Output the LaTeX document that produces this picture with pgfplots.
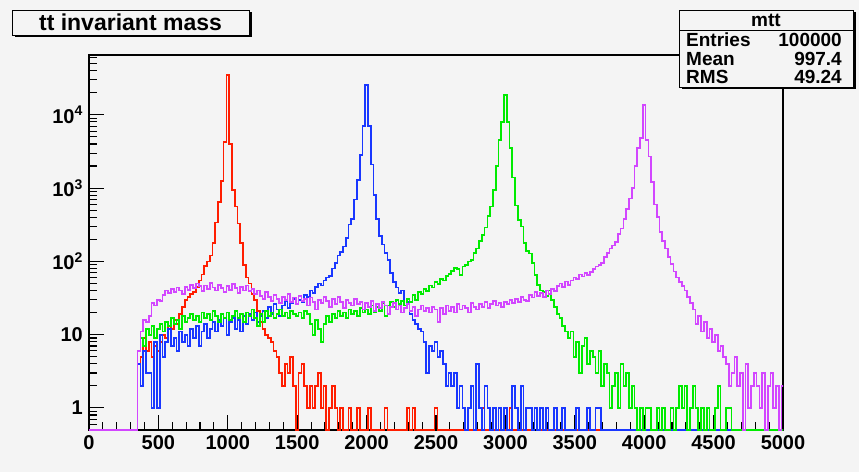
\documentclass[border=0pt]{standalone}
\usepackage{pgfplots}
\pgfplotsset{compat=1.18}
\usepackage{pgfplotstable}
\usepackage{fontspec}
\setmainfont{Liberation Sans}
\definecolor{bg}{RGB}{244,244,244}
\definecolor{hred}{RGB}{255,30,0}
\definecolor{hblue}{RGB}{25,55,255}
\definecolor{hgreen}{RGB}{0,235,0}
\definecolor{hmag}{RGB}{210,70,255}

% x = left bin edge (20 GeV bins); columns: red, blue, green, magenta; 0.5 = empty bin
\pgfplotstableread{
x r b g m
0 0.5 0.5 0.5 0.5
350 4 4 6 6
370 5 2 9 11
390 9 6 7 16
410 6 3 12 15
430 8 3 10 18
450 5 1 13 27
470 7 8 9 25
490 6 1 12 30
510 8 10 14 29
530 10 5 11 35
550 9 8 15 40
570 13 12 13 37
590 12 7 17 42
610 16 9 14 38
630 14 6 16 44
650 19 11 12 40
670 24 8 18 36
690 30 10 15 45
710 33 7 17 41
730 36 12 19 48
750 38 9 16 43
770 45 13 18 50
790 55 7 15 46
810 66 11 20 39
830 87 14 17 47
850 100 9 19 42
870 120 12 16 51
890 177 15 21 44
910 340 11 18 40
930 650 16 15 48
950 1250 13 19 43
970 4300 17 17 38
990 35000 10 20 46
1010 4000 15 16 41
1030 950 17 18 49
1050 560 12 21 43
1070 330 16 17 37
1090 180 11 19 45
1110 90 18 15 40
1130 60 14 20 47
1150 50 19 18 39
1170 36 16 22 42
1190 30 20 17 36
1210 21 15 13 40
1230 15 18 19 34
1250 12 21 15 31
1270 10 17 21 38
1290 9 24 18 33
1310 8 19 20 29
1330 6 26 17 35
1350 5 22 19 31
1370 3 18 22 27
1390 2 25 18 33
1410 4 29 20 30
1430 3 23 17 36
1450 5 27 21 28
1470 2 31 19 32
1490 0.5 26 18 26
1510 3 30 20 34
1530 4 28 17 29
1550 2 35 21 31
1570 1 33 19 25
1590 2 40 14 32
1610 1 37 10 28
1630 2 45 16 22
1650 3 50 12 30
1670 1 47 8 27
1690 2 55 14 33
1710 0.5 60 18 29
1730 1 63 15 24
1750 2 80 19 31
1770 1 95 17 26
1790 0.5 120 21 33
1810 1 135 18 28
1830 0.5 160 20 23
1850 0.5 210 17 30
1870 1 320 22 27
1890 0.5 380 19 25
1910 0.5 700 21 31
1930 1 1300 18 26
1950 0.5 2800 23 28
1970 0.5 7000 20 22
1990 0.5 25500 22 27
2010 1 7000 19 24
2030 0.5 2100 25 29
2050 0.5 800 20 21
2070 0.5 380 24 26
2090 0.5 220 21 23
2110 0.5 170 27 28
2130 1 130 18 25
2150 0.5 105 25 19
2170 0.5 70 28 24
2190 0.5 52 24 27
2210 0.5 44 30 22
2230 0.5 37 26 25
2250 0.5 40 29 20
2270 0.5 25 25 23
2290 1 28 31 26
2310 0.5 19 28 21
2330 1 16 35 24
2350 0.5 14 30 18
2370 0.5 12 38 22
2390 0.5 11 36 25
2410 0.5 8 42 21
2430 0.5 3 39 23
2450 0.5 7 47 20
2470 0.5 6 44 24
2490 1 8 52 22
2510 0.5 5 49 15
2530 0.5 6 58 23
2550 0.5 4 55 19
2570 0.5 2 63 25
2590 0.5 3 68 21
2610 0.5 2 74 24
2630 0.5 3 82 20
2650 0.5 1 78 26
2670 0.5 2 65 22
2690 0.5 1 85 25
2710 0.5 0.5 90 23
2730 0.5 1 100 20
2750 0.5 2 104 27
2770 0.5 0.5 130 24
2790 0.5 4 150 22
2810 0.5 1 190 26
2830 1 0.5 230 24
2850 0.5 2 290 28
2870 0.5 1 420 23
2890 0.5 0.5 560 26
2910 0.5 1 950 29
2930 0.5 0.5 2000 25
2950 0.5 1 4500 27
2970 0.5 0.5 8000 24
2990 0.5 1 18600 28
3010 0.5 0.5 8000 26
3030 1 0.5 3500 30
3050 0.5 2 1400 27
3070 0.5 1 580 31
3090 0.5 0.5 370 28
3110 0.5 2 300 33
3130 0.5 0.5 180 30
3150 0.5 1 140 29
3170 0.5 1 128 35
3190 0.5 0.5 95 32
3210 1 1 65 38
3230 0.5 0.5 48 34
3250 0.5 1 40 37
3270 0.5 0.5 38 33
3290 0.5 1 34 40
3310 0.5 0.5 40 36
3330 0.5 0.5 30 42
3350 0.5 1 24 39
3370 0.5 0.5 19 46
3390 0.5 0.5 17 50
3410 0.5 1 13 45
3430 0.5 0.5 11 53
3450 0.5 0.5 9 48
3470 0.5 0.5 11 55
3490 0.5 0.5 5 60
3510 0.5 1 8 57
3530 0.5 0.5 3 66
3550 0.5 0.5 7 62
3570 0.5 0.5 9 70
3590 0.5 1 4 65
3610 0.5 0.5 6 72
3630 0.5 0.5 5 78
3650 0.5 1 3 85
3670 0.5 1 6 90
3690 0.5 0.5 2 95
3710 0.5 0.5 4 115
3730 0.5 0.5 3 130
3750 0.5 0.5 1 150
3770 0.5 0.5 2 165
3790 0.5 0.5 3 185
3810 0.5 0.5 1 235
3830 0.5 0.5 4 280
3850 0.5 0.5 2 380
3870 0.5 0.5 3 520
3890 0.5 0.5 1 720
3910 0.5 0.5 2 1000
3930 0.5 0.5 1 2000
3950 0.5 0.5 0.5 3500
3970 0.5 0.5 1 4800
3990 0.5 0.5 0.5 13600
4010 0.5 0.5 1 4500
4030 0.5 0.5 1 2700
4050 0.5 0.5 0.5 1200
4070 0.5 0.5 0.5 600
4090 0.5 0.5 1 400
4110 0.5 0.5 0.5 250
4130 0.5 0.5 1 190
4150 0.5 0.5 0.5 150
4170 0.5 0.5 0.5 115
4190 0.5 0.5 1 93
4210 0.5 0.5 0.5 73
4230 0.5 0.5 1 60
4250 0.5 0.5 2 52
4270 0.5 0.5 1 46
4290 0.5 0.5 2 40
4310 0.5 0.5 0.5 33
4330 0.5 0.5 1 27
4350 0.5 0.5 2 22
4370 0.5 0.5 1 14
4390 0.5 0.5 0.5 18
4410 0.5 0.5 1 11
4430 0.5 0.5 0.5 15
4450 0.5 0.5 1 9
4470 0.5 0.5 0.5 12
4490 0.5 0.5 0.5 8
4510 0.5 0.5 1 10
4530 0.5 0.5 2 6
4550 0.5 0.5 0.5 7
4570 0.5 0.5 0.5 5
4590 0.5 0.5 1 4
4610 0.5 0.5 1 2
4630 0.5 0.5 0.5 3
4650 0.5 0.5 0.5 5
4670 0.5 0.5 0.5 2
4690 0.5 0.5 0.5 3
4710 0.5 0.5 0.5 0.5
4730 0.5 0.5 0.5 4
4750 0.5 0.5 0.5 1
4770 0.5 0.5 0.5 2
4790 0.5 0.5 0.5 3
4810 0.5 0.5 0.5 2
4830 0.5 0.5 0.5 1
4850 0.5 0.5 0.5 3
4870 0.5 0.5 0.5 0.5
4890 0.5 0.5 0.5 2
4910 0.5 0.5 0.5 3
4930 0.5 0.5 0.5 1
4950 0.5 0.5 0.5 2
4970 0.5 0.5 0.5 0.5
4990 0.5 0.5 0.5 2
5010 0.5 0.5 0.5 2
}\hist

\begin{document}
\begin{tikzpicture}[x=1pt,y=1pt]
\useasboundingbox (0,0) rectangle (859,472);
\fill[bg] (0,0) rectangle (859,472);
\begin{axis}[
  at={(89pt,42pt)}, anchor=south west,
  width=694pt, height=375pt, scale only axis,
  xmin=0, xmax=5000, ymode=log, ymin=0.5, ymax=65500,
  axis background/.style={fill=bg},
  axis line style={line width=1.6pt, black},
  tick pos=left, tick align=inside,
  major tick length=15pt, minor tick length=8pt,
  every tick/.style={black, line width=1.1pt},
  xtick={0,500,1000,1500,2000,2500,3000,3500,4000,4500,5000},
  xticklabels={0,500,1000,1500,2000,2500,3000,3500,4000,4500,5000},
  minor x tick num=4,
  ytick={1,10,100,1000,10000},
  yticklabels={1,10,10\textsuperscript{2},10\textsuperscript{3},10\textsuperscript{4}},
  minor ytick={0.6,0.7,0.8,0.9,2,3,4,5,6,7,8,9,20,30,40,50,60,70,80,90,200,300,400,500,600,700,800,900,2000,3000,4000,5000,6000,7000,8000,9000,20000,30000,40000,50000,60000},
  x tick label style={font=\bfseries\fontsize{20}{20}\selectfont, inner sep=0pt, yshift=-5pt},
  y tick label style={font=\bfseries\fontsize{20}{20}\selectfont, inner sep=0pt, xshift=-6pt},
]
\addplot[const plot mark left, no marks, hred, line width=1.7pt] table[x=x,y=r]{\hist};
\addplot[const plot mark left, no marks, hblue, line width=1.7pt] table[x=x,y=b]{\hist};
\addplot[const plot mark left, no marks, hgreen, line width=1.7pt] table[x=x,y=g]{\hist};
\addplot[const plot mark left, no marks, hmag, line width=1.7pt] table[x=x,y=m]{\hist};
\end{axis}
% title box
\fill[black] (14.5,434.5) rectangle (251.5,459.5);
\draw[fill=bg, line width=0.8pt] (12,437) rectangle (249,462);
\node at (130.5,449.5) {\bfseries\fontsize{23}{23}\selectfont tt invariant mass};
% stats box
\fill[black] (681.5,382.5) rectangle (855.5,459.5);
\draw[fill=bg, line width=0.8pt] (679,385) rectangle (853,462);
\draw[line width=0.8pt] (679,442) -- (853,442);
\node at (766,451.5) {\bfseries\fontsize{19}{19}\selectfont mtt};
\node[anchor=west, inner sep=0pt] at (686,432) {\bfseries\fontsize{19}{19}\selectfont Entries};
\node[anchor=east, inner sep=0pt] at (842,432) {\bfseries\fontsize{19}{19}\selectfont 100000};
\node[anchor=west, inner sep=0pt] at (686,413) {\bfseries\fontsize{19}{19}\selectfont Mean};
\node[anchor=east, inner sep=0pt] at (842,413) {\bfseries\fontsize{19}{19}\selectfont 997.4};
\node[anchor=west, inner sep=0pt] at (686,395) {\bfseries\fontsize{19}{19}\selectfont RMS};
\node[anchor=east, inner sep=0pt] at (842,395) {\bfseries\fontsize{19}{19}\selectfont 49.24};
\end{tikzpicture}
\end{document}
